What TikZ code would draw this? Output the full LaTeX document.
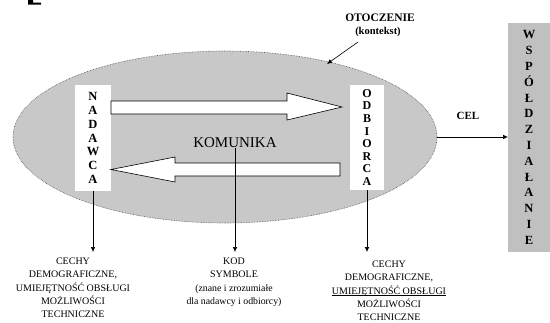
\documentclass[tikz,border=0pt]{standalone}
\usepackage{fontspec}
\setmainfont{Liberation Serif}
\usetikzlibrary{shapes.geometric,arrows.meta}
\definecolor{ellgray}{RGB}{200,200,200}
\definecolor{boxgray}{RGB}{192,192,192}
\tikzset{
  every node/.style={inner sep=0pt, outer sep=0pt},
  letterbox/.style={fill=white, align=center, font=\bfseries\fontsize{12.5}{13.7}\selectfont},
  bottomtxt/.style={align=center, font=\fontsize{10}{13.3}\selectfont, anchor=north},
  blockarrow/.style={draw=black, line width=0.6pt, fill=white, line join=miter},
  thinarrow/.style={draw=black, line width=0.6pt, -{Latex[length=5pt,width=4.5pt]}},
}
\begin{document}
\begin{tikzpicture}[x=1pt,y=-1pt]
\useasboundingbox (0,0) rectangle (550,322);
% fragment top-left
\fill[black] (28,0) -- (33,0) -- (33,2.7) -- (41,2.7) -- (41,4.7) -- (28,4.7) -- cycle;
% environment ellipse
\node[ellipse, draw=black!70, densely dotted, line width=0.6pt, fill=ellgray,
      minimum width=424pt, minimum height=172pt] (ell) at (225,137) {};
% boxes
\node[letterbox, minimum width=36pt, minimum height=106pt] (nad) at (93,138) {N\\A\\D\\A\\W\\C\\A};
\node[letterbox, minimum width=34pt, minimum height=105pt, font=\bfseries\fontsize{12}{12.6}\selectfont] (odb) at (367,137.5) {O\\D\\B\\I\\O\\R\\C\\A};
\node[letterbox, fill=boxgray, minimum width=42pt, minimum height=229pt,
      font=\bfseries\fontsize{12.5}{15.8}\selectfont] (wsp) at (529,137.5)
      {W\\S\\P\\Ó\\Ł\\D\\Z\\I\\A\\Ł\\A\\N\\I\\E};
% block arrows
\draw[blockarrow] (nad.east |- 0,101) coordinate (ua) -- (287,101) -- (287,93) -- (342,107)
   -- (287,120) -- (287,114) -- (ua |- 0,114) -- cycle;
\draw[blockarrow] (nad.east |- 0,169.5) coordinate (la) -- (175,157) -- (175,163) -- (340,163)
   -- (340,176) -- (175,176) -- (175,182) -- cycle;
% KOMUNIKA
\node[font=\fontsize{15}{18}\selectfont] (kom) at (235,143) {KOMUNIKA};
% labels
\node[font=\bfseries\fontsize{11.5}{13}\selectfont] (oto) at (380,18) {OTOCZENIE};
\node[font=\bfseries\fontsize{10.5}{12}\selectfont] (ctx) at (378,32) {(kontekst)};
\coordinate (ostart) at (358,42);
\coordinate (otip) at (327,64);
\draw[thinarrow] (ostart) -- (otip);
\node[font=\bfseries\fontsize{11}{13}\selectfont] (cel) at (468,116) {CEL};
\draw[thinarrow] (ell.east) -- (wsp.west |- ell.east);
% bottom texts
\node[bottomtxt] (lt) at (73,258) {CECHY\\DEMOGRAFICZNE,\\UMIEJĘTNOŚĆ OBSŁUGI\\MOŻLIWOŚCI\\TECHNICZNE};
\node[bottomtxt] (kod) at (234,258) {KOD\\SYMBOLE\\{\fontsize{9.8}{13.3}\selectfont (znane i zrozumiałe}\\{\fontsize{9.8}{13.3}\selectfont dla nadawcy i odbiorcy)}};
\node[bottomtxt] (rt) at (389,261) {CECHY\\DEMOGRAFICZNE,\\\underline{\raisebox{0pt}[\height][0pt]{UMIEJĘTNOŚĆ OBSŁUGI}}\\MOŻLIWOŚCI\\TECHNICZNE};
% connectors down
\draw[thinarrow, shorten >=6pt] (nad.south) -- (nad.south |- lt.north);
\draw[thinarrow, shorten >=6pt] (kom.south) -- (kom.south |- kod.north);
\draw[thinarrow, shorten >=9pt] (odb.south) -- (odb.south |- rt.north);
\end{tikzpicture}
\end{document}
